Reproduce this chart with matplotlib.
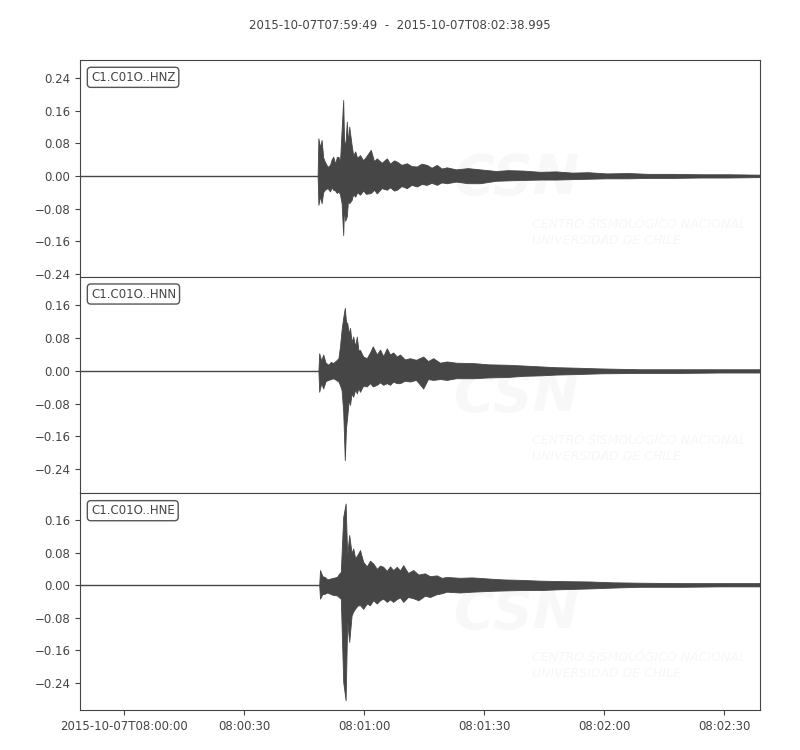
import datetime as dt

import numpy as np
import matplotlib
matplotlib.use("Agg")
import matplotlib.pyplot as plt
import matplotlib.dates as mdates

# Trace metadata
start = dt.datetime(2015, 10, 7, 7, 59, 49)
duration = 169.995
channels = ["C1.C01O..HNZ", "C1.C01O..HNN", "C1.C01O..HNE"]
ylims = [(-0.247, 0.284), (-0.299, 0.230), (-0.306, 0.225)]
yticks = [-0.24, -0.16, -0.08, 0.0, 0.08, 0.16, 0.24]

# Envelopes: seconds after start, upper / lower amplitude
hnz_t = [59.4, 59.6, 60.0, 60.4, 60.8, 61.2, 61.9, 62.5, 62.9, 63.3, 63.8, 64.2, 64.6, 65.0,
         65.4, 65.8, 66.0, 66.3, 66.7, 67.0, 67.3, 67.9, 68.3, 68.8, 69.3, 70.0, 70.8, 71.5,
         72.7, 73.5, 74.2, 75.4, 76.7, 77.5, 78.5, 79.2, 80.4, 81.7, 82.9, 84.2, 85.4, 86.7,
         87.9, 89.2, 90.4, 91.7, 94.0, 97.0, 100.0, 104.0, 107.0, 110.8, 115.0, 119.0,
         123.0, 127.0, 131.7, 137.0, 142.0, 148.0, 155.0, 162.0, 170.0]
hnz_up = [0.0, 0.092, 0.070, 0.088, 0.045, 0.035, 0.022, 0.027, 0.040, 0.047, 0.030, 0.046, 0.047, 0.035,
          0.113, 0.186, 0.090, 0.070, 0.133, 0.080, 0.121, 0.076, 0.050, 0.060, 0.044, 0.051, 0.038, 0.047,
          0.064, 0.036, 0.043, 0.032, 0.043, 0.030, 0.038, 0.035, 0.027, 0.031, 0.024, 0.023, 0.030, 0.027,
          0.020, 0.027, 0.018, 0.021, 0.016, 0.019, 0.016, 0.012, 0.014, 0.013, 0.010, 0.011,
          0.008, 0.009, 0.006, 0.007, 0.005, 0.005, 0.004, 0.004, 0.003]
hnz_lo = [0.0, -0.071, -0.050, -0.067, -0.040, -0.034, -0.030, -0.038, -0.028, -0.034, -0.036, -0.042, -0.038, -0.045,
          -0.067, -0.145, -0.080, -0.110, -0.099, -0.060, -0.067, -0.059, -0.045, -0.051, -0.040, -0.046, -0.036, -0.044,
          -0.042, -0.034, -0.043, -0.030, -0.034, -0.028, -0.036, -0.034, -0.025, -0.030, -0.022, -0.026, -0.020, -0.022,
          -0.017, -0.022, -0.016, -0.018, -0.014, -0.018, -0.018, -0.012, -0.011, -0.010, -0.009, -0.009,
          -0.008, -0.007, -0.006, -0.006, -0.005, -0.005, -0.004, -0.004, -0.003]

hnn_t = [59.6, 59.8, 60.3, 60.8, 61.4, 62.1, 62.7, 63.3, 64.0, 64.6, 65.0, 65.4, 65.8, 66.2,
         66.5, 66.8, 67.2, 67.5, 67.9, 68.3, 68.8, 69.2, 69.6, 70.0, 70.8, 71.7, 72.5, 73.2,
         74.2, 75.0, 75.8, 76.7, 77.5, 78.3, 79.2, 80.0, 81.2, 82.5, 84.0, 85.8, 87.0, 88.3,
         90.0, 91.7, 94.0, 98.3, 102.0, 106.7, 111.0, 115.0, 119.0, 123.3, 130.0, 140.0,
         150.0, 160.0, 170.0]
hnn_up = [0.0, 0.043, 0.025, 0.040, 0.020, 0.015, 0.022, 0.019, 0.025, 0.031, 0.060, 0.101, 0.130, 0.154,
          0.120, 0.117, 0.090, 0.105, 0.070, 0.084, 0.060, 0.084, 0.050, 0.051, 0.035, 0.031, 0.045, 0.060,
          0.040, 0.052, 0.036, 0.055, 0.040, 0.045, 0.035, 0.040, 0.028, 0.031, 0.027, 0.035, 0.024, 0.031,
          0.020, 0.023, 0.020, 0.019, 0.016, 0.015, 0.013, 0.011, 0.009, 0.008, 0.006, 0.004,
          0.004, 0.004, 0.004]
hnn_lo = [0.0, -0.051, -0.030, -0.043, -0.025, -0.022, -0.020, -0.018, -0.022, -0.026, -0.035, -0.047, -0.100, -0.218,
          -0.140, -0.112, -0.070, -0.083, -0.055, -0.063, -0.045, -0.055, -0.042, -0.051, -0.036, -0.038, -0.030, -0.038,
          -0.034, -0.028, -0.034, -0.030, -0.034, -0.026, -0.030, -0.030, -0.024, -0.026, -0.022, -0.043, -0.020, -0.022,
          -0.020, -0.022, -0.018, -0.018, -0.016, -0.015, -0.012, -0.011, -0.009, -0.008, -0.006, -0.005,
          -0.005, -0.004, -0.004]

hne_t = [59.8, 60.0, 60.6, 61.2, 61.8, 62.5, 63.3, 64.2, 64.8, 65.2, 65.8, 66.4, 66.8, 67.3,
         67.9, 68.3, 68.8, 69.4, 70.0, 70.8, 71.7, 72.5, 73.3, 74.2, 75.0, 75.8, 76.7, 77.5,
         78.3, 79.2, 80.0, 80.8, 82.0, 83.3, 84.6, 86.2, 87.5, 89.2, 90.4, 91.7, 95.0, 98.0,
         102.5, 106.0, 110.0, 115.0, 120.0, 127.5, 133.0, 140.0, 150.0, 160.0, 170.0]
hne_up = [0.0, 0.037, 0.022, 0.020, 0.014, 0.016, 0.018, 0.020, 0.028, 0.033, 0.167, 0.200, 0.074, 0.123,
          0.078, 0.090, 0.066, 0.075, 0.086, 0.057, 0.046, 0.060, 0.053, 0.040, 0.048, 0.045, 0.035, 0.046,
          0.037, 0.045, 0.036, 0.049, 0.030, 0.037, 0.026, 0.029, 0.022, 0.024, 0.018, 0.020, 0.018, 0.019,
          0.016, 0.014, 0.013, 0.011, 0.010, 0.009, 0.007, 0.006, 0.005, 0.005, 0.005]
hne_lo = [0.0, -0.033, -0.022, -0.021, -0.018, -0.021, -0.024, -0.025, -0.030, -0.033, -0.237, -0.282, -0.090, -0.139,
          -0.074, -0.065, -0.057, -0.050, -0.049, -0.058, -0.045, -0.049, -0.037, -0.045, -0.037, -0.033, -0.041, -0.035,
          -0.041, -0.034, -0.030, -0.041, -0.029, -0.032, -0.037, -0.026, -0.029, -0.022, -0.020, -0.016, -0.018, -0.016,
          -0.014, -0.013, -0.012, -0.012, -0.010, -0.008, -0.006, -0.004, -0.004, -0.003, -0.003]

envelopes = [(hnz_t, hnz_up, hnz_lo), (hnn_t, hnn_up, hnn_lo), (hne_t, hne_up, hne_lo)]

color = "#464646"
plt.rcParams["font.family"] = "DejaVu Sans"


def to_dates(secs):
    return [start + dt.timedelta(seconds=float(s)) for s in secs]


fig, axes = plt.subplots(3, 1, figsize=(8, 7.5), dpi=100, sharex=True)
fig.subplots_adjust(left=0.1, right=0.95, top=0.92, bottom=0.0533, hspace=0)

t0, t1 = to_dates([0, duration])
for ax, name, (t, up, lo), ylim in zip(axes, channels, envelopes, ylims):
    ax.plot([t0, t1], [0, 0], color=color, lw=1.0, zorder=2)
    ax.fill_between(to_dates(t), up, lo, color=color, lw=0.6, edgecolor=color, zorder=3)
    ax.set_xlim(t0, t1)
    ax.set_ylim(*ylim)
    ax.set_yticks([y for y in yticks if ylim[0] < y < ylim[1]])
    ax.yaxis.set_major_formatter(plt.FuncFormatter(lambda v, p: f"{v:.2f}".replace("-", "\u2212")))
    ax.tick_params(labelsize=8.5, colors="#444444")
    for s in ax.spines.values():
        s.set_color("#444444")
    ax.text(0.016, 0.95, name, transform=ax.transAxes, ha="left", va="top",
            fontsize=8.5, color="#444444",
            bbox=dict(boxstyle="round,pad=0.3", fc="white", ec="#555555", lw=1))
    # faint CSN watermark
    ax.text(0.55, 0.45, "CSN", transform=ax.transAxes, fontsize=40, fontweight="bold",
            fontstyle="italic", color="#f8f8f8", ha="left", va="center", zorder=0, clip_on=True)
    ax.text(0.665, 0.205, "CENTRO SISMOLÓGICO NACIONAL\nUNIVERSIDAD DE CHILE",
            transform=ax.transAxes, fontsize=9, fontstyle="italic", color="#f7f7f7",
            ha="left", va="center", linespacing=1.3, zorder=0, clip_on=True)


def fmt_time(x, pos):
    d = mdates.num2date(x)
    if pos == 0:
        return d.strftime("%Y-%m-%dT%H:%M:%S")
    return d.strftime("%H:%M:%S")


axes[-1].xaxis.set_major_locator(mdates.SecondLocator(bysecond=[0, 30]))
axes[-1].xaxis.set_major_formatter(plt.FuncFormatter(fmt_time))
for ax in axes[:-1]:
    ax.tick_params(axis="x", length=0)

fig.suptitle("2015-10-07T07:59:49  -  2015-10-07T08:02:38.995", y=0.975,
             fontsize=8.5, color="#444444")

fig.savefig("out.png", dpi=100)
